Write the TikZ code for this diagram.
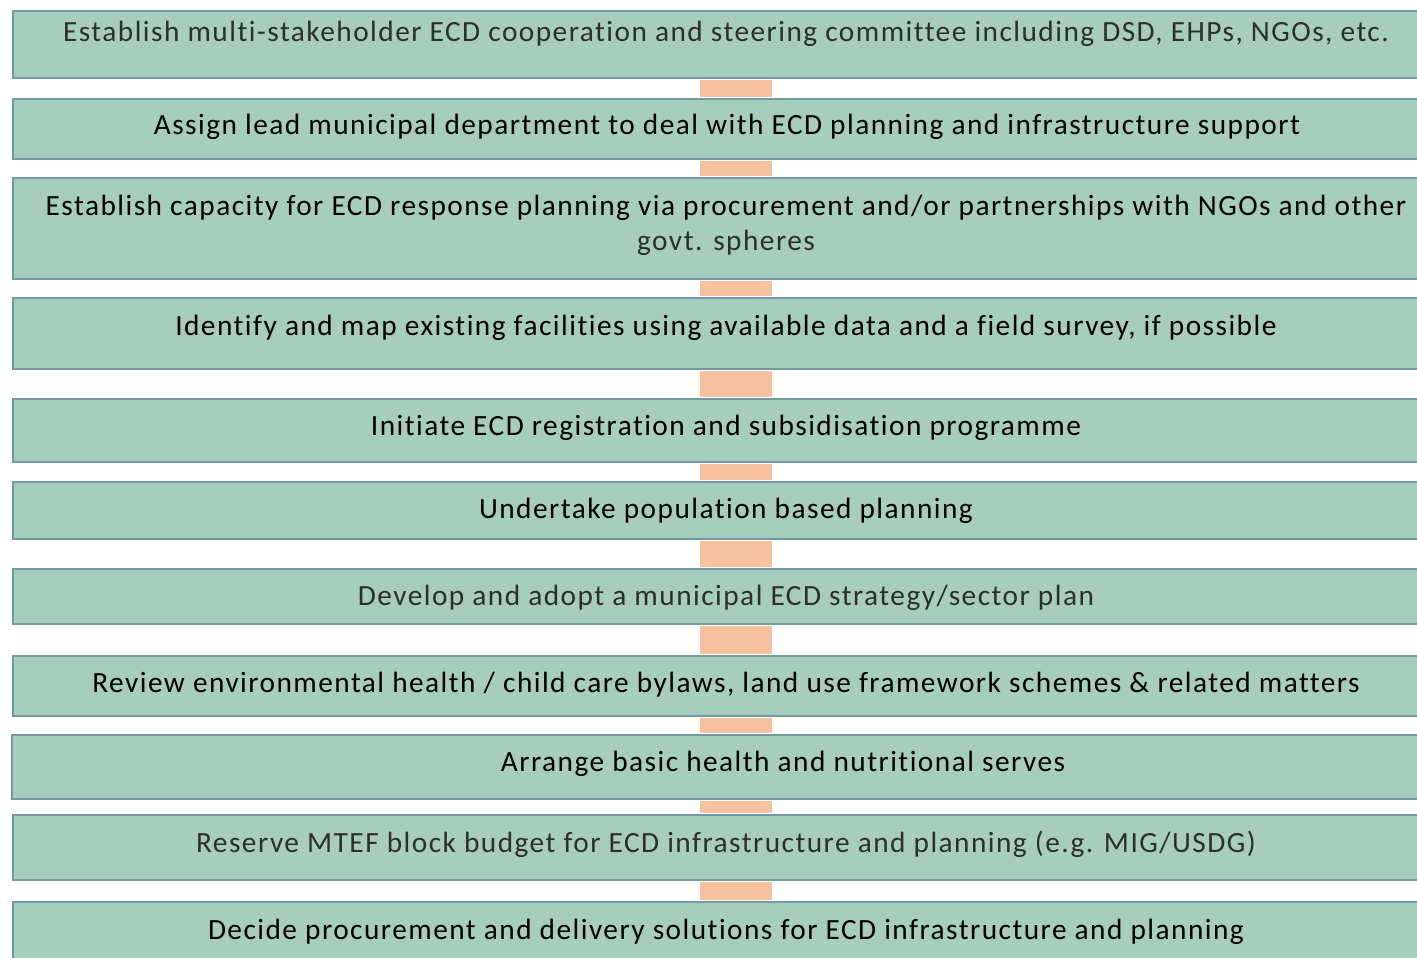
\documentclass[tikz,border=0pt]{standalone}
\usepackage{fontspec}
\setmainfont{Carlito}[LetterSpace=5,Ligatures={NoCommon}]
\usetikzlibrary{calc}
\definecolor{boxfill}{HTML}{A7CDBD}
\definecolor{boxline}{HTML}{7098A5}
\definecolor{connfill}{HTML}{F6C29E}
\definecolor{greytext}{HTML}{2E2E2E}
\begin{document}
\begin{tikzpicture}[x=0.75pt,y=-0.75pt,
  stepbox/.style={draw=boxline,line width=1.5pt,fill=boxfill,inner sep=0pt,
    minimum width=1071pt,anchor=north west},
  steptext/.style={inner sep=0pt,align=center,font=\fontsize{22pt}{26pt}\selectfont,text=black},
  greyish/.style={text=greytext},
  connbar/.style={fill=connfill,draw=none}]
\useasboundingbox (0,0) rectangle (1417,957);
\clip (0,0) rectangle (1417,957);
% connector reference coordinates
\coordinate (cl) at (700,0);
\coordinate (cr) at (772,0);
% boxes
\node[stepbox,minimum height=50.25pt] (b1) at (12,10) {};
\node[stepbox,minimum height=45pt] (b2) at (12,98) {};
\node[stepbox,minimum height=75.75pt] (b3) at (12,177) {};
\node[stepbox,minimum height=53.25pt] (b4) at (12,297) {};
\node[stepbox,minimum height=47.25pt] (b5) at (12,397.5) {};
\node[stepbox,minimum height=42.75pt] (b6) at (12,481) {};
\node[stepbox,minimum height=41.25pt] (b7) at (12,567.5) {};
\node[stepbox,minimum height=45pt] (b8) at (12,654.5) {};
\node[stepbox,minimum height=48pt] (b9) at (11,733.5) {};
\node[stepbox,minimum height=48.75pt] (b10) at (12,813.5) {};
\node[stepbox,minimum height=60pt] (b11) at (12,900.5) {};
% connectors
\foreach \a/\b in {b1/b2,b2/b3,b3/b4,b4/b5,b5/b6,b6/b7,b7/b8,b8/b9,b9/b10,b10/b11}{
  \path[connbar] ([yshift=-0.75pt]\a.south -| cl) rectangle ([yshift=0.75pt]\b.north -| cr);
}
% texts
\node[steptext,greyish] (t1) at (726,34) {Establish multi-stakeholder ECD cooperation and steering committee including DSD, EHPs, NGOs, etc.};
\node[steptext] (t2) at (727,127) {Assign lead municipal department to deal with ECD planning and infrastructure support};
\node[steptext] (t3a) at (726,208) {Establish capacity for ECD response planning via procurement and/or partnerships with NGOs and other};
\node[steptext,greyish] (t3b) at (726,243) {govt. spheres};
\node[steptext] (t4) at (726,328) {Identify and map existing facilities using available data and a field survey, if possible};
\node[steptext] (t5) at (726,428) {Initiate ECD registration and subsidisation programme};
\node[steptext] (t6) at (726,511) {Undertake population based planning};
\node[steptext,greyish] (t7) at (726,598) {Develop and adopt a municipal ECD strategy/sector plan};
\node[steptext] (t8) at (726,685) {Review environmental health / child care bylaws, land use framework schemes \& related matters};
\node[steptext] (t9) at (783,764) {Arrange basic health and nutritional serves};
\node[steptext,greyish] (t10) at (726,844) {Reserve MTEF block budget for ECD infrastructure and planning (e.g. MIG/USDG)};
\node[steptext] (t11) at (726,932) {Decide procurement and delivery solutions for ECD infrastructure and planning};
\end{tikzpicture}
\end{document}
